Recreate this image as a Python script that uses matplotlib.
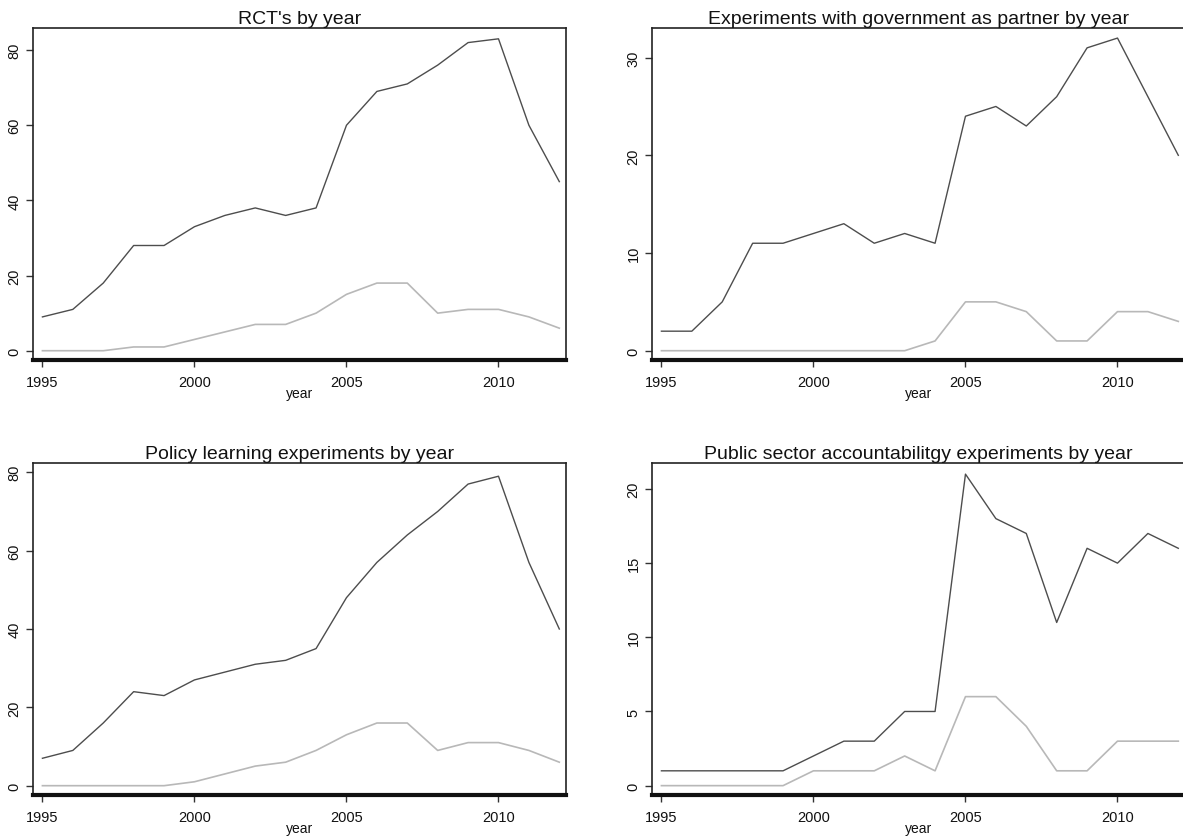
import matplotlib
matplotlib.use('Agg')
import matplotlib.pyplot as plt

plt.rcParams['font.family'] = ['Liberation Sans', 'DejaVu Sans']

years = list(range(1995, 2013))

# counts per year: total (dark) and the second series (light)
rct_total = [9, 11, 18, 28, 28, 33, 36, 38, 36, 38, 60, 69, 71, 76, 82, 83, 60, 45]
rct_sub = [0, 0, 0, 1, 1, 3, 5, 7, 7, 10, 15, 18, 18, 10, 11, 11, 9, 6]

gov_total = [2, 2, 5, 11, 11, 12, 13, 11, 12, 11, 24, 25, 23, 26, 31, 32, 26, 20]
gov_sub = [0, 0, 0, 0, 0, 0, 0, 0, 0, 1, 5, 5, 4, 1, 1, 4, 4, 3]

policy_total = [7, 9, 16, 24, 23, 27, 29, 31, 32, 35, 48, 57, 64, 70, 77, 79, 57, 40]
policy_sub = [0, 0, 0, 0, 0, 1, 3, 5, 6, 9, 13, 16, 16, 9, 11, 11, 9, 6]

acct_total = [1, 1, 1, 1, 1, 2, 3, 3, 5, 5, 21, 18, 17, 11, 16, 15, 17, 16]
acct_sub = [0, 0, 0, 0, 0, 1, 1, 1, 2, 1, 6, 6, 4, 1, 1, 3, 3, 3]

xticks = [1995, 2000, 2005, 2010]

panels = [
    ("RCT's by year", rct_total, rct_sub, [0, 20, 40, 60, 80], (-2.47, 85.8)),
    ('Experiments with government as partner by year', gov_total, gov_sub,
     [0, 10, 20, 30], (-0.95, 33.0)),
    ('Policy learning experiments by year', policy_total, policy_sub,
     [0, 20, 40, 60, 80], (-2.3, 82.3)),
    ('Public sector accountabilitgy experiments by year', acct_total, acct_sub,
     [0, 5, 10, 15, 20], (-0.61, 21.73)),
]

W, H = 1183, 837
# axes boxes in pixels: left, right, top, bottom
boxes = [
    (32.7, 566.3, 29.3, 361.0),
    (651.7, 1185.3, 29.3, 361.0),
    (32.7, 566.3, 464.3, 795.7),
    (651.7, 1185.3, 464.3, 795.7),
]

fig = plt.figure(figsize=(W / 100, H / 100), dpi=100)

for (title, total, sub, yticks, ylim), (l, r, t, b) in zip(panels, boxes):
    ax = fig.add_axes([l / W, 1 - b / H, (r - l) / W, (b - t) / H])
    ax.plot(years, total, color='#4d4d4d', lw=1.0)
    ax.plot(years, sub, color='#b8b8b8', lw=1.2)
    ax.set_xlim(1994.68, 2012.23)
    ax.set_ylim(*ylim)
    ax.set_xticks(xticks)
    ax.set_yticks(yticks)
    ax.tick_params(axis='both', direction='out', length=5, width=1,
                   color='#333333', labelsize=10.5, labelcolor='#111111')
    ax.tick_params(axis='x', pad=6)
    ax.tick_params(axis='y', pad=3)
    for lab in ax.get_yticklabels():
        lab.set_rotation(90)
        lab.set_va('center')
    for side in ['left', 'top', 'right']:
        ax.spines[side].set_linewidth(1.2)
        ax.spines[side].set_color('#222222')
    ax.spines['bottom'].set_linewidth(3.0)
    ax.spines['bottom'].set_color('#111111')
    ax.set_title(title, fontsize=14, pad=4, color='#111111')
    ax.set_xlabel('year', fontsize=10, labelpad=-2.5, color='#111111')

fig.savefig('out.png', dpi=100)
